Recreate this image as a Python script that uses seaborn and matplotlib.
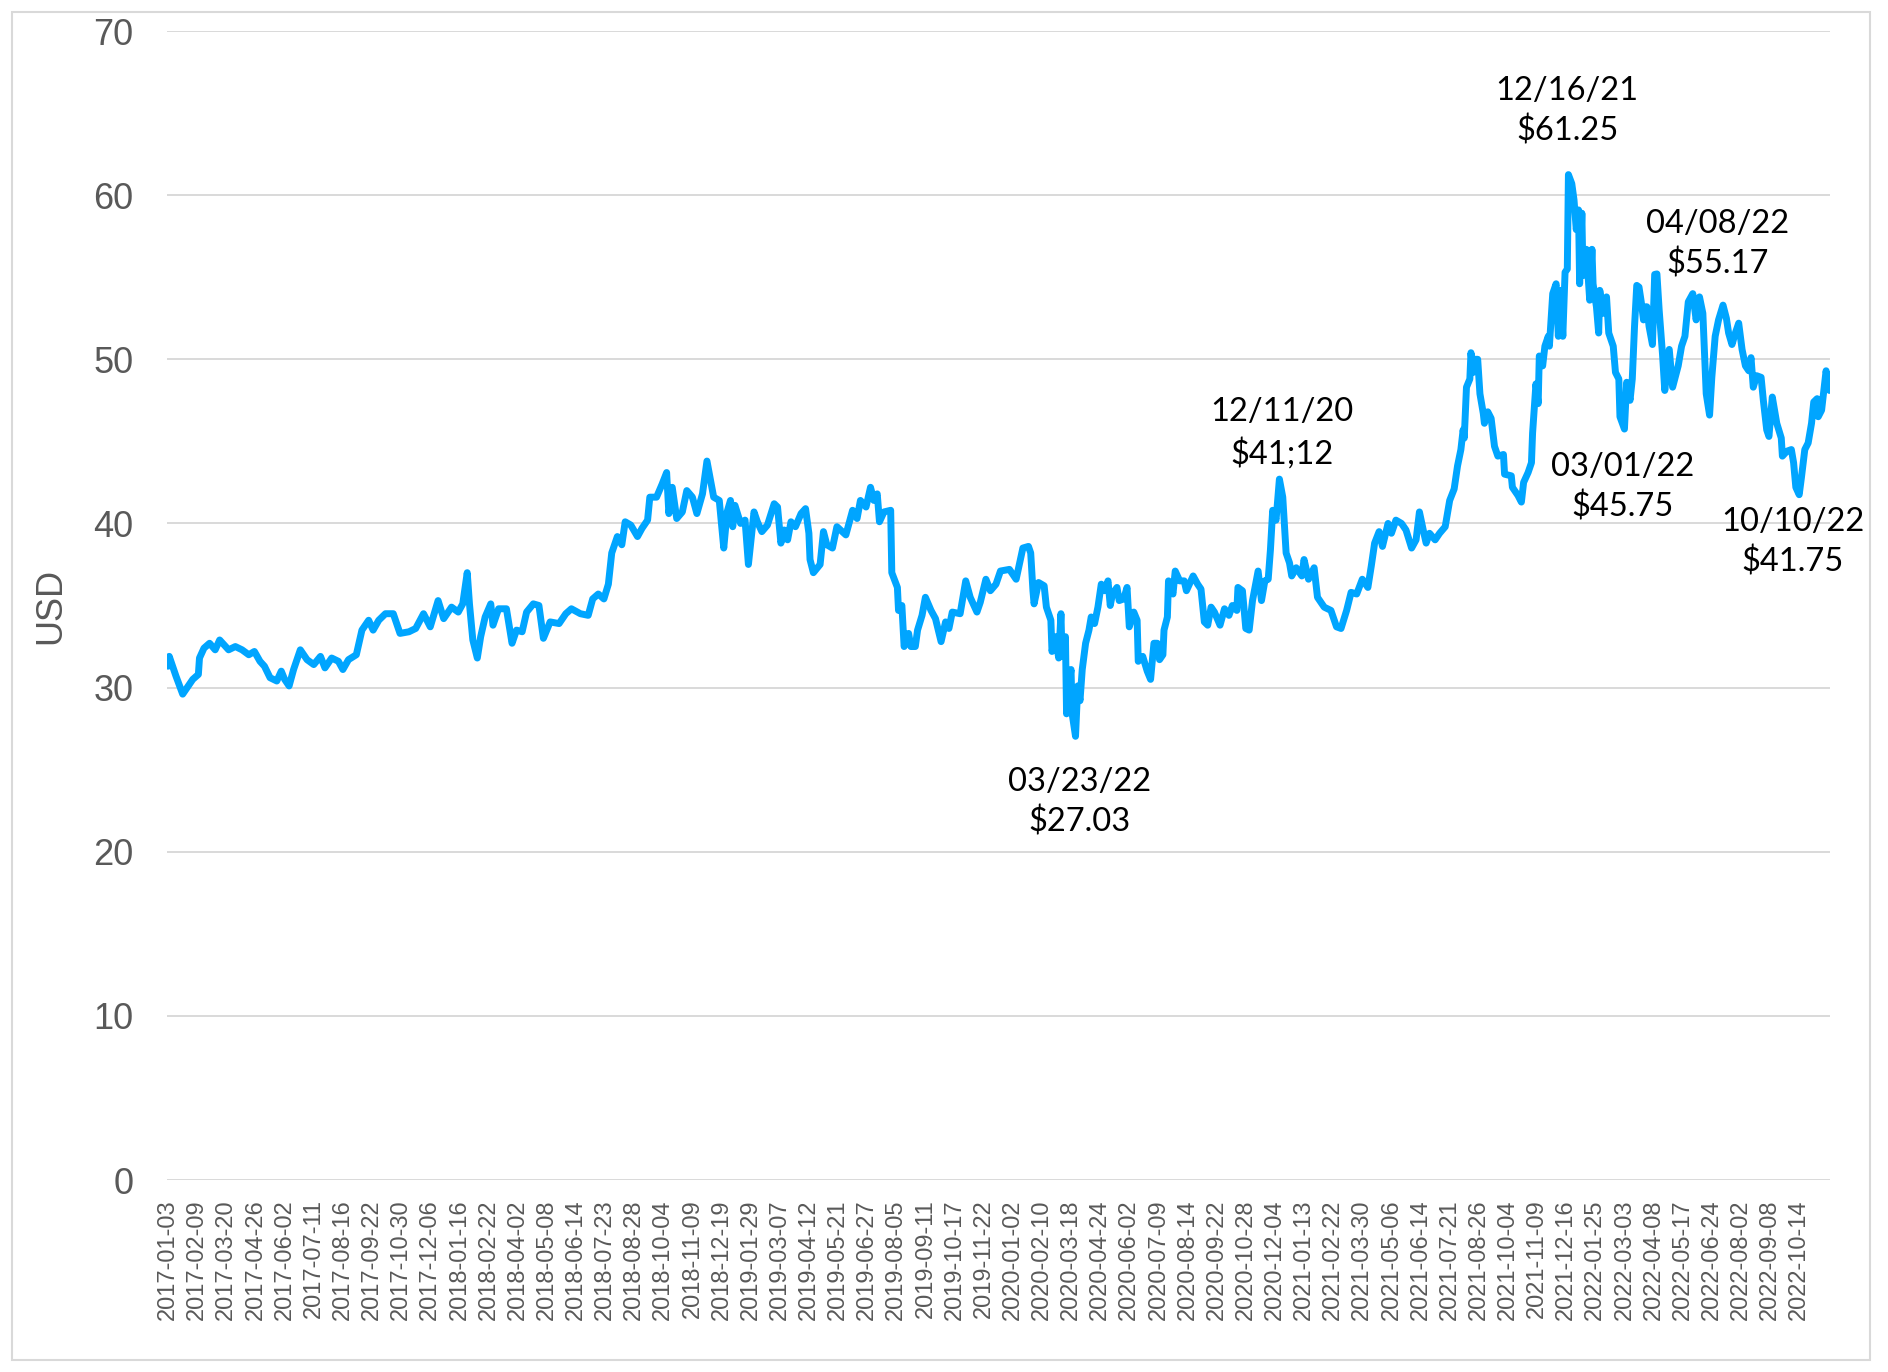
import numpy as np
import pandas as pd
import matplotlib
matplotlib.use("Agg")
import matplotlib.pyplot as plt
from matplotlib.patches import Rectangle
import seaborn as sns

# ---- data (trading-day index since 2017-01-03, price in USD) ----
trading_day = [
    0, 1, 2, 7, 13, 18, 22, 27, 28, 32, 37, 42, 46, 54, 60, 66, 72, 77, 82, 86,
    91, 97, 101, 104, 108, 112, 118, 124, 130, 136, 140, 146, 152, 156, 161, 168, 173, 179, 183, 188,
    194, 201, 207, 215, 221, 228, 234, 241, 246, 253, 259, 263, 267, 269, 272, 276, 279, 283, 288, 290,
    295, 302, 307, 311, 316, 320, 326, 331, 335, 341, 349, 355, 360, 368, 375, 379, 384, 389, 393, 396,
    401, 405, 408, 413, 419, 423, 428, 430, 436, 441, 445, 447, 450, 454, 459, 463, 468, 472, 477, 481,
    487, 492, 496, 499, 502, 504, 506, 511, 515, 518, 523, 526, 530, 535, 541, 544, 547, 550, 553, 556,
    560, 565, 569, 572, 573, 576, 582, 585, 588, 593, 597, 605, 611, 615, 618, 623, 627, 630, 633, 635,
    639, 645, 646, 651, 652, 655, 657, 661, 663, 667, 669, 673, 676, 681, 685, 690, 694, 697, 700, 707,
    712, 716, 722, 725, 730, 734, 739, 743, 751, 757, 763, 768, 770, 772, 773, 777, 782, 784, 788, 789,
    792, 795, 797, 798, 801, 802, 804, 806, 807, 810, 812, 814, 816, 819, 822, 824, 827, 830, 833, 836,
    839, 841, 843, 847, 849, 853, 856, 858, 862, 865, 866, 870, 874, 877, 880, 883, 885, 888, 889, 892,
    893, 897, 899, 903, 907, 909, 915, 919, 922, 925, 928, 931, 934, 939, 943, 947, 950, 954, 955, 959,
    962, 965, 968, 973, 976, 979, 982, 984, 986, 989, 992, 995, 998, 1001, 1003, 1007, 1012, 1014, 1018, 1023,
    1026, 1032, 1038, 1043, 1047, 1052, 1056, 1061, 1066, 1071, 1074, 1077, 1081, 1084, 1089, 1092, 1096, 1101, 1105, 1110,
    1114, 1117, 1121, 1123, 1126, 1131, 1135, 1140, 1144, 1148, 1151, 1154, 1156, 1157, 1159, 1162, 1163, 1165, 1166, 1169,
    1171, 1174, 1175, 1178, 1181, 1184, 1187, 1192, 1193, 1199, 1200, 1205, 1208, 1210, 1214, 1217, 1218, 1221, 1223, 1224,
    1227, 1229, 1232, 1233, 1236, 1239, 1241, 1243, 1245, 1247, 1249, 1250, 1253, 1255, 1257, 1259, 1260, 1262, 1263, 1266,
    1269, 1271, 1272, 1275, 1277, 1278, 1281, 1284, 1286, 1290, 1292, 1295, 1296, 1300, 1302, 1305, 1307, 1309, 1311, 1313,
    1315, 1317, 1319, 1320, 1322, 1325, 1327, 1329, 1331, 1334, 1336, 1340, 1343, 1348, 1351, 1354, 1357, 1361, 1364, 1367,
    1370, 1373, 1376, 1378, 1381, 1384, 1388, 1391, 1393, 1396, 1399, 1402, 1405, 1408, 1411, 1413, 1415, 1418, 1422, 1424,
    1427, 1429, 1432, 1436, 1440, 1441, 1445, 1449, 1451, 1453, 1456, 1458, 1461, 1464, 1467, 1469, 1472, 1473, 1476, 1480,
    1483,
]
usd = [
    31.3, 31.9, 31.7, 30.7, 29.6, 30.1, 30.5, 30.8, 31.8, 32.4, 32.7, 32.3, 32.9, 32.3, 32.5, 32.3, 32.0, 32.2, 31.6, 31.3,
    30.6, 30.4, 31.0, 30.5, 30.1, 31.1, 32.3, 31.7, 31.4, 31.9, 31.2, 31.8, 31.6, 31.1, 31.7, 32.0, 33.5, 34.1, 33.5, 34.1,
    34.5, 34.5, 33.3, 33.4, 33.6, 34.5, 33.7, 35.3, 34.2, 34.9, 34.6, 35.1, 37.0, 35.1, 32.9, 31.8, 33.1, 34.3, 35.1, 33.8,
    34.8, 34.8, 32.7, 33.5, 33.4, 34.6, 35.1, 35.0, 33.0, 34.0, 33.9, 34.5, 34.8, 34.5, 34.4, 35.4, 35.7, 35.4, 36.3, 38.2,
    39.2, 38.7, 40.1, 39.9, 39.2, 39.7, 40.2, 41.6, 41.6, 42.4, 43.1, 40.6, 42.2, 40.3, 40.7, 42.0, 41.6, 40.6, 41.8, 43.8,
    41.6, 41.4, 38.5, 40.7, 41.4, 39.8, 41.1, 40.0, 40.2, 37.5, 40.7, 40.1, 39.5, 39.9, 41.2, 41.0, 38.8, 39.6, 39.0, 40.1,
    39.8, 40.6, 40.9, 39.4, 37.8, 37.0, 37.5, 39.5, 38.7, 38.5, 39.8, 39.3, 40.8, 40.3, 41.4, 41.0, 42.2, 41.4, 41.8, 40.1,
    40.7, 40.8, 37.0, 36.1, 34.7, 35.0, 32.5, 33.3, 32.5, 32.5, 33.5, 34.4, 35.5, 34.7, 34.2, 32.8, 34.0, 33.6, 34.6, 34.5,
    36.5, 35.5, 34.6, 35.2, 36.6, 35.9, 36.3, 37.1, 37.2, 36.6, 38.5, 38.6, 38.2, 35.9, 35.1, 36.4, 36.2, 34.9, 34.1, 32.2,
    33.1, 31.8, 34.5, 31.9, 33.1, 28.4, 30.1, 31.1, 28.4, 27.03, 30.1, 29.2, 31.1, 32.7, 33.5, 34.3, 33.9, 34.9, 36.3, 35.9,
    36.5, 35.0, 35.7, 36.1, 35.3, 35.4, 36.1, 33.7, 34.6, 34.1, 31.6, 31.9, 31.0, 30.5, 32.7, 32.7, 31.7, 32.0, 33.5, 34.3,
    36.5, 35.7, 37.1, 36.5, 36.5, 35.9, 36.8, 36.3, 36.0, 34.0, 33.8, 34.9, 34.6, 33.8, 34.8, 34.4, 35.0, 34.7, 36.1, 35.9,
    33.6, 33.5, 35.3, 37.1, 35.3, 36.5, 36.6, 38.4, 40.8, 40.2, 42.7, 41.6, 38.2, 37.6, 36.8, 37.3, 36.8, 37.8, 36.6, 37.3,
    35.5, 34.9, 34.7, 33.7, 33.6, 34.7, 35.8, 35.7, 36.6, 36.1, 37.4, 38.8, 39.5, 38.6, 40.0, 39.4, 40.2, 40.0, 39.6, 38.5,
    39.0, 40.7, 39.4, 38.8, 39.4, 39.0, 39.4, 39.8, 41.4, 42.1, 43.5, 44.5, 45.7, 45.2, 48.3, 48.8, 50.4, 49.2, 50.0, 50.0,
    47.9, 46.7, 46.1, 46.8, 46.4, 44.7, 44.1, 44.2, 43.0, 42.9, 42.2, 41.7, 41.3, 42.5, 43.1, 43.7, 45.5, 48.5, 47.3, 50.2,
    49.6, 50.8, 51.4, 50.8, 54.0, 54.6, 51.4, 54.2, 51.4, 55.3, 55.5, 61.25, 60.7, 59.7, 57.9, 59.1, 54.6, 58.9, 55.1, 56.7,
    53.6, 56.7, 54.6, 53.2, 51.6, 54.2, 52.8, 53.8, 51.6, 50.8, 49.2, 48.8, 46.5, 45.75, 48.6, 47.5, 48.8, 52.0, 54.5, 54.4,
    53.5, 52.4, 53.2, 53.2, 52.0, 50.9, 55.17, 55.2, 53.0, 50.3, 48.1, 50.6, 48.3, 49.6, 50.8, 51.4, 53.5, 54.0, 52.4, 53.8,
    52.8, 47.9, 46.6, 48.9, 51.4, 52.4, 53.3, 52.5, 51.6, 50.9, 51.6, 52.2, 50.6, 49.6, 49.3, 50.1, 48.3, 49.0, 48.9, 47.5,
    45.7, 45.3, 47.7, 46.1, 45.2, 44.1, 44.4, 44.5, 43.7, 42.2, 41.75, 42.8, 44.5, 44.9, 46.1, 47.4, 47.6, 46.5, 46.9, 49.3,
    48.1,
]

tick_labels = [
    "2017-01-03", "2017-02-09", "2017-03-20", "2017-04-26", "2017-06-02", "2017-07-11",
    "2017-08-16", "2017-09-22", "2017-10-30", "2017-12-06", "2018-01-16", "2018-02-22",
    "2018-04-02", "2018-05-08", "2018-06-14", "2018-07-23", "2018-08-28", "2018-10-04",
    "2018-11-09", "2018-12-19", "2019-01-29", "2019-03-07", "2019-04-12", "2019-05-21",
    "2019-06-27", "2019-08-05", "2019-09-11", "2019-10-17", "2019-11-22", "2020-01-02",
    "2020-02-10", "2020-03-18", "2020-04-24", "2020-06-02", "2020-07-09", "2020-08-14",
    "2020-09-22", "2020-10-28", "2020-12-04", "2021-01-13", "2021-02-22", "2021-03-30",
    "2021-05-06", "2021-06-14", "2021-07-21", "2021-08-26", "2021-10-04", "2021-11-09",
    "2021-12-16", "2022-01-25", "2022-03-03", "2022-04-08", "2022-05-17", "2022-06-24",
    "2022-08-02", "2022-09-08", "2022-10-14",
]
tick_step = 26  # trading days between labels

annotations = [
    ("12/16/21\n$61.25", 1249, 65.1),
    ("04/08/22\n$55.17", 1383, 57.0),
    ("12/11/20\n$41;12", 994, 45.5),
    ("03/01/22\n$45.75", 1298, 42.2),
    ("10/10/22\n$41.75", 1450, 38.85),
    ("03/23/22\n$27.03", 814, 23.0),
]

df = pd.DataFrame({"trading_day": trading_day, "usd": usd})

# ---- figure ----
sns.set_theme(style="white")
plt.rcParams["font.family"] = ["Liberation Sans", "DejaVu Sans"]

W, H = 1888, 1372
fig = plt.figure(figsize=(W / 100, H / 100), dpi=100)
ax = fig.add_axes([167 / W, 1 - 1180 / H, (1830 - 167) / W, (1180 - 31) / H])

grid_color = "#D9D9D9"
label_color = "#595959"

for v in range(0, 71, 10):
    ax.axhline(v, color=grid_color, lw=1.4, zorder=0)

sns.lineplot(data=df, x="trading_day", y="usd", ax=ax, color="#00A5FF",
             lw=5.0, estimator=None, sort=True, zorder=3)

ax.set_xlim(-1, 1483.5)
ax.set_ylim(0, 70)
ax.set_yticks(range(0, 71, 10))
ax.set_yticklabels([str(v) for v in range(0, 71, 10)], fontsize=26, color=label_color)
ax.set_xticks(np.arange(len(tick_labels)) * tick_step)
ax.set_xticklabels(tick_labels, rotation=90, fontsize=17, color=label_color)
ax.tick_params(axis="x", length=0, pad=14)
ax.tick_params(axis="y", length=0, pad=24)
ax.set_xlabel("")
ax.set_ylabel("USD", fontsize=26, color=label_color, labelpad=18)
ax.grid(False)
for s in ax.spines.values():
    s.set_visible(False)

for text, x, y in annotations:
    ax.text(x, y, text, ha="center", va="center", fontsize=23.5,
            family=["Lato", "DejaVu Sans"], color="black", linespacing=1.4, zorder=4)

fig.patches.append(Rectangle((12 / W, 1 - 1360 / H), (1870 - 12) / W, (1360 - 12) / H,
                             transform=fig.transFigure, fill=False,
                             edgecolor=grid_color, lw=1.5))

fig.savefig("out.png", dpi=100, facecolor="white")
